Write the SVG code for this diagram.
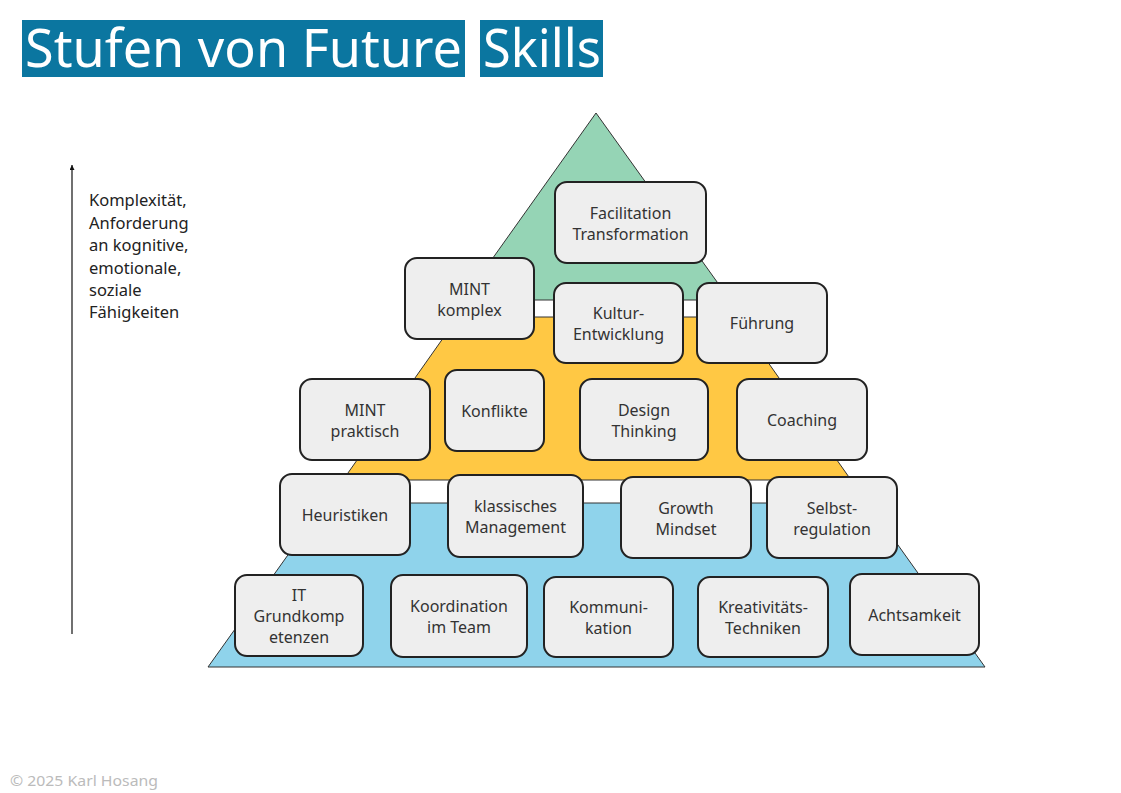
<svg xmlns="http://www.w3.org/2000/svg" width="1121" height="793" viewBox="0 0 1121 793">
<style>
.t{font-family:"Noto Sans","Liberation Sans",sans-serif;font-size:16px;fill:#333;text-anchor:middle}
.b{fill:#eeeeee;stroke:#222;stroke-width:2}
.lay{stroke:#333;stroke-width:1}
.ax{font-family:"Noto Sans","Liberation Sans",sans-serif;font-size:16.5px;fill:#222}
.title{font-family:"Noto Sans","Liberation Sans",sans-serif;font-size:52px;fill:#fff}
</style>
<defs>
<marker id="ah" viewBox="0 0 10 10" refX="10" refY="5" markerWidth="8" markerHeight="5" markerUnits="userSpaceOnUse" orient="auto">
<path d="M0,0 L10,5 L0,10 Z" fill="#111"/>
</marker>
</defs>
<rect width="1121" height="793" fill="#fff"/>
<g id="title">
<rect x="22" y="20" width="443" height="57" fill="#0b76a0"/>
<rect x="480" y="20" width="123" height="57" fill="#0b76a0"/>
<text class="title" x="25" y="67" textLength="437" lengthAdjust="spacingAndGlyphs">Stufen von Future</text>
<text class="title" x="483" y="67" textLength="118" lengthAdjust="spacingAndGlyphs">Skills</text>
</g>
<g id="pyramid">
<polygon class="lay" points="596,113 730,300 463,300" fill="#95d4b5"/>
<polygon class="lay" points="458,317 736,317 851,480 343,480" fill="#ffc844"/>
<polygon class="lay" points="325,503 868,503 985,667 208,667" fill="#8fd3eb"/>
</g>
<g id="connectors">
<line x1="72" y1="634" x2="72" y2="165" stroke="#111" stroke-width="1.2" marker-end="url(#ah)"/>
</g>
<g id="axis-label">
<text class="ax" x="89" y="206">Komplexität,</text>
<text class="ax" x="89" y="228.5">Anforderung</text>
<text class="ax" x="89" y="251">an kognitive,</text>
<text class="ax" x="89" y="273.5">emotionale,</text>
<text class="ax" x="89" y="296">soziale</text>
<text class="ax" x="89" y="318">Fähigkeiten</text>
</g>
<g id="n-facilitation"><rect class="b" x="555" y="182" width="151" height="81" rx="12"/><text class="t" x="630.5" y="218.5">Facilitation</text><text class="t" x="630.5" y="239.5">Transformation</text></g>
<g id="n-mint-komplex"><rect class="b" x="405" y="258" width="129" height="81" rx="12"/><text class="t" x="469.5" y="294.5">MINT</text><text class="t" x="469.5" y="315.5">komplex</text></g>
<g id="n-kultur"><rect class="b" x="554" y="283" width="129" height="80" rx="12"/><text class="t" x="618.5" y="319">Kultur-</text><text class="t" x="618.5" y="340">Entwicklung</text></g>
<g id="n-fuehrung"><rect class="b" x="697" y="283" width="130" height="80" rx="12"/><text class="t" x="762" y="329">Führung</text></g>
<g id="n-mint-praktisch"><rect class="b" x="300" y="379" width="130" height="81" rx="12"/><text class="t" x="365" y="415.5">MINT</text><text class="t" x="365" y="436.5">praktisch</text></g>
<g id="n-konflikte"><rect class="b" x="445" y="370" width="99" height="81" rx="12"/><text class="t" x="494.5" y="416.5">Konflikte</text></g>
<g id="n-design"><rect class="b" x="580" y="379" width="128" height="81" rx="12"/><text class="t" x="644" y="415.5">Design</text><text class="t" x="644" y="436.5">Thinking</text></g>
<g id="n-coaching"><rect class="b" x="737" y="379" width="130" height="81" rx="12"/><text class="t" x="802" y="425.5">Coaching</text></g>
<g id="n-heuristiken"><rect class="b" x="280" y="474" width="130" height="81" rx="12"/><text class="t" x="345" y="520.5">Heuristiken</text></g>
<g id="n-management"><rect class="b" x="448" y="475" width="135" height="82" rx="12"/><text class="t" x="515.5" y="512">klassisches</text><text class="t" x="515.5" y="533">Management</text></g>
<g id="n-growth"><rect class="b" x="621" y="477" width="130" height="81" rx="12"/><text class="t" x="686" y="513.5">Growth</text><text class="t" x="686" y="534.5">Mindset</text></g>
<g id="n-selbst"><rect class="b" x="767" y="477" width="130" height="81" rx="12"/><text class="t" x="832" y="513.5">Selbst-</text><text class="t" x="832" y="534.5">regulation</text></g>
<g id="n-it"><rect class="b" x="235" y="575" width="128" height="81" rx="12"/><text class="t" x="299" y="601">IT</text><text class="t" x="299" y="622">Grundkomp</text><text class="t" x="299" y="643">etenzen</text></g>
<g id="n-koordination"><rect class="b" x="391" y="575" width="136" height="82" rx="12"/><text class="t" x="459" y="612">Koordination</text><text class="t" x="459" y="633">im Team</text></g>
<g id="n-kommunikation"><rect class="b" x="544" y="577" width="129" height="80" rx="12"/><text class="t" x="608.5" y="613">Kommuni-</text><text class="t" x="608.5" y="634">kation</text></g>
<g id="n-kreativ"><rect class="b" x="698" y="577" width="130" height="80" rx="12"/><text class="t" x="763" y="613">Kreativitäts-</text><text class="t" x="763" y="634">Techniken</text></g>
<g id="n-achtsamkeit"><rect class="b" x="850" y="574" width="129" height="81" rx="12"/><text class="t" x="914.5" y="620.5">Achtsamkeit</text></g>
<text x="10" y="786" font-family="Noto Sans, Liberation Sans, sans-serif" font-size="15" fill="#bbbbbb" textLength="148" lengthAdjust="spacingAndGlyphs">© 2025 Karl Hosang</text>
</svg>
